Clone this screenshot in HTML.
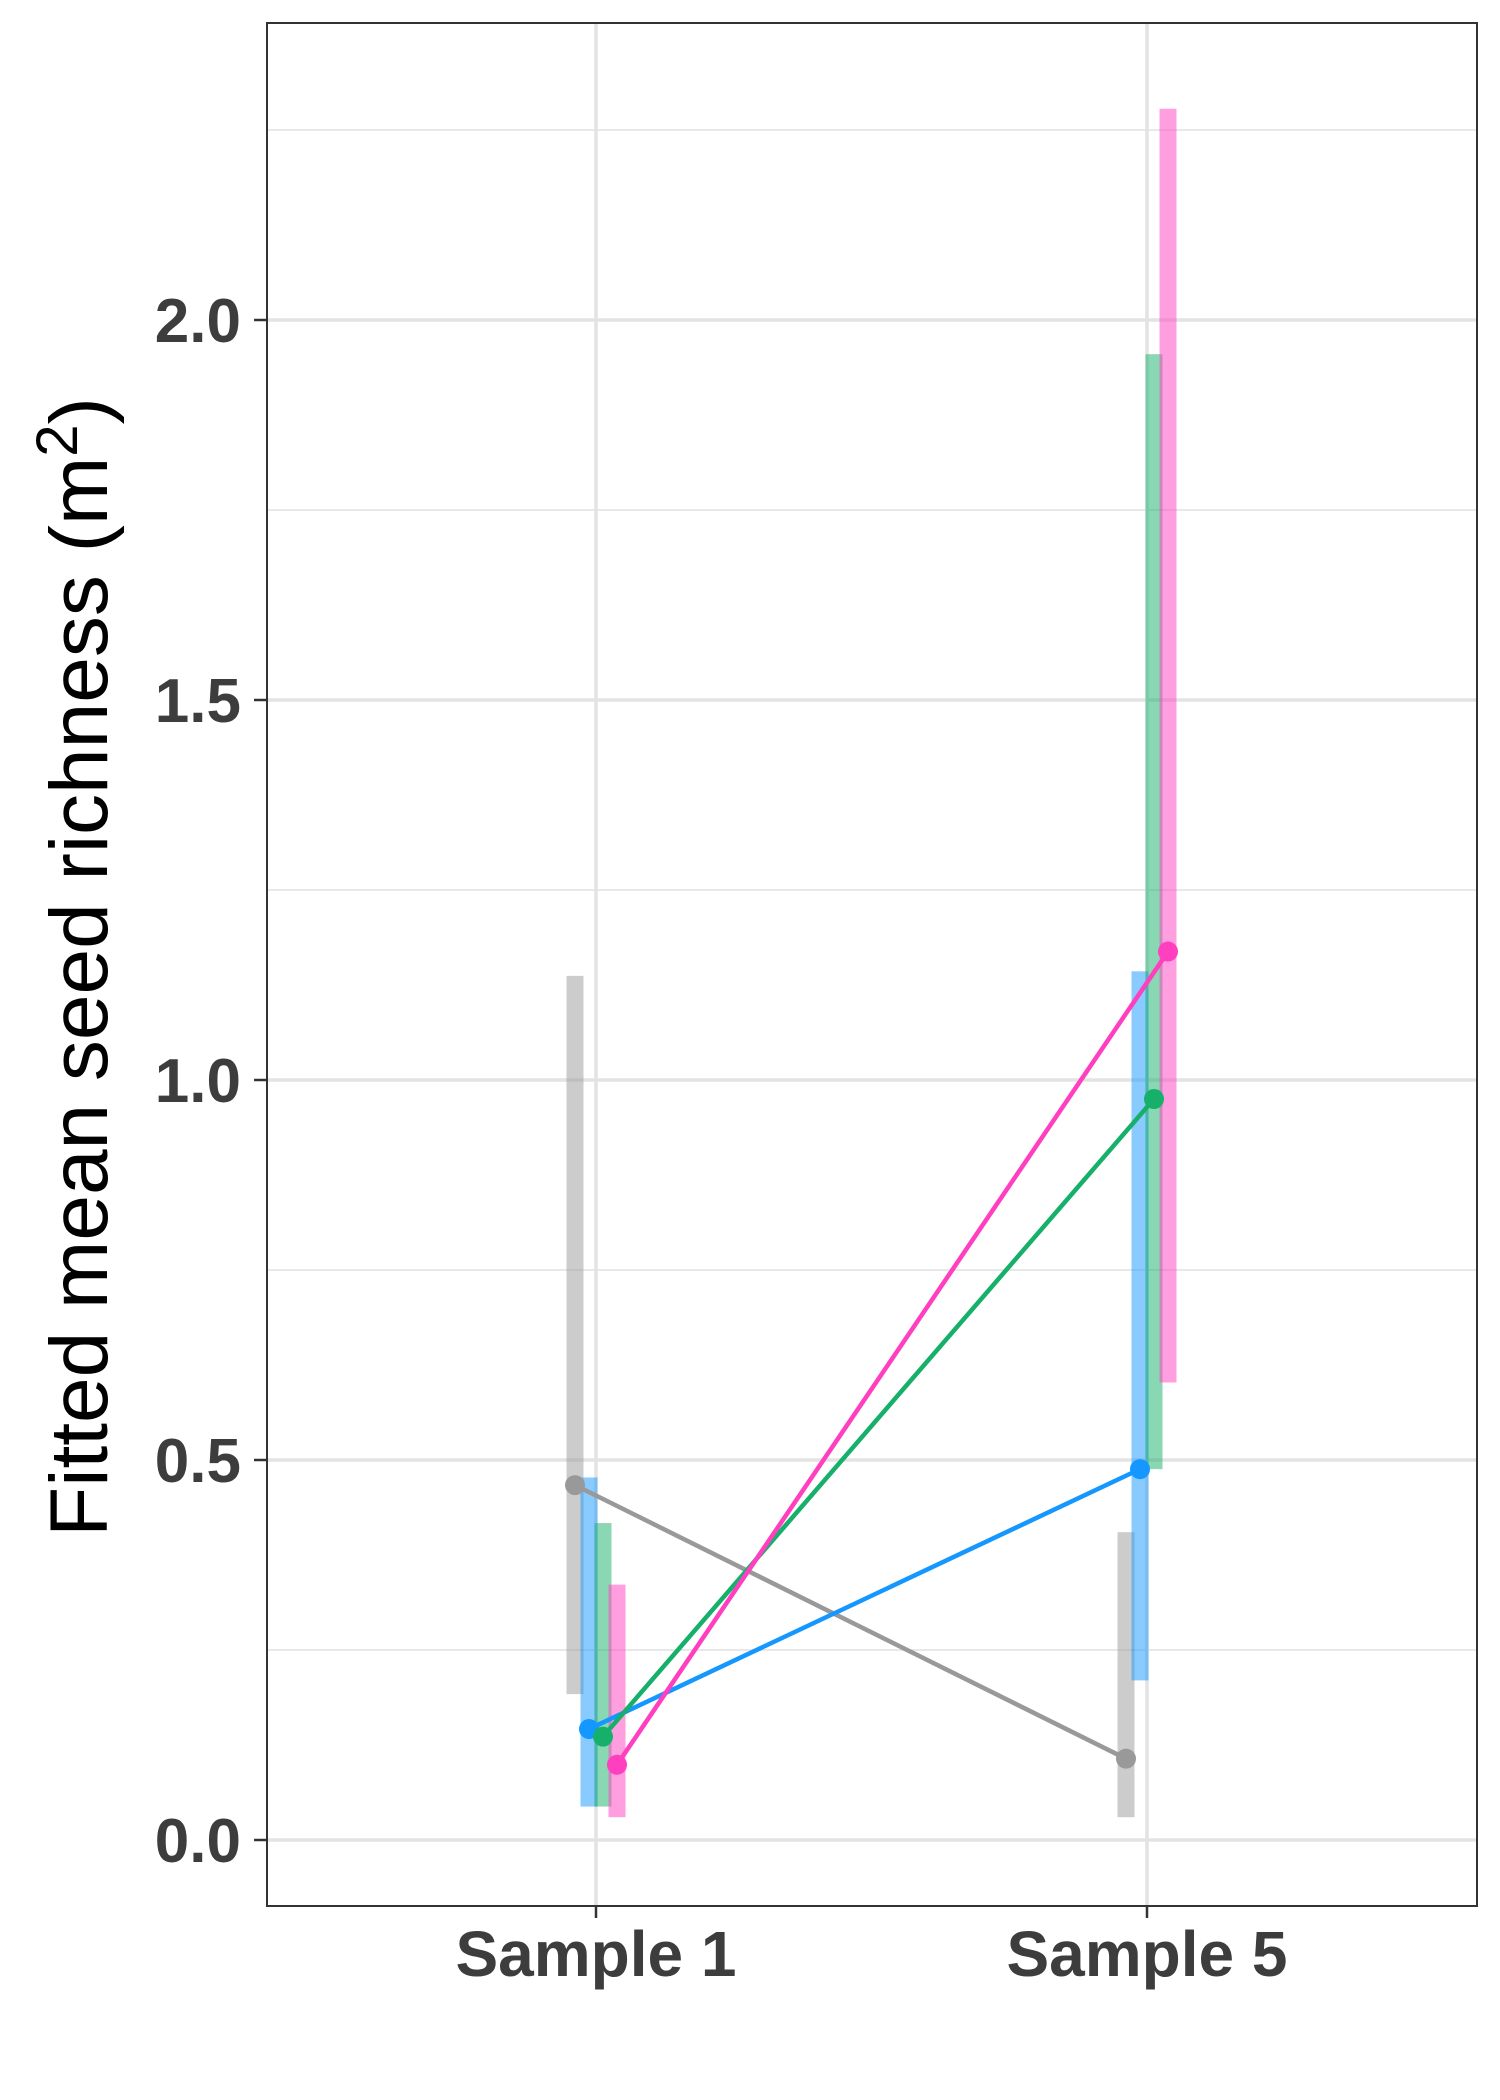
<!DOCTYPE html>
<html><head><meta charset="utf-8"><style>
html,body{margin:0;padding:0;background:#fff}
svg{display:block}
</style></head><body>
<svg id="chart" width="1500" height="2100" viewBox="0 0 1500 2100" xmlns="http://www.w3.org/2000/svg">
<rect x="0" y="0" width="1500" height="2100" fill="#fff"/>
<g id="grid"></g>
<g id="marks"></g>
<rect x="267" y="23" width="1210" height="1883" fill="none" stroke="#333" stroke-width="2"/>
<g id="axes"></g>
<text transform="translate(107,967) rotate(-90)" text-anchor="middle" font-family="Liberation Sans, sans-serif" font-size="82" fill="#000">Fitted mean seed richness (m<tspan dy="-30" font-size="58">2</tspan><tspan dy="30">)</tspan></text>
</svg>
<script>
const categories = ["Sample 1", "Sample 5"];
const groupColors = ["#999999", "#1497ff", "#16b06a", "#ff3fc0"];
const grayMean = [0.467, 0.107];
const grayLow = [0.192, 0.030];
const grayHigh = [1.137, 0.405];
const blueMean = [0.146, 0.488];
const blueLow = [0.044, 0.210];
const blueHigh = [0.477, 1.143];
const greenMean = [0.136, 0.975];
const greenLow = [0.044, 0.488];
const greenHigh = [0.417, 1.955];
const pinkMean = [0.099, 1.169];
const pinkLow = [0.030, 0.602];
const pinkHigh = [0.336, 2.278];
const yTicks = [0, 0.5, 1.0, 1.5, 2.0];
const yTickLabels = ["0.0", "0.5", "1.0", "1.5", "2.0"];
const yMinor = [0.25, 0.75, 1.25, 1.75, 2.25];

const NS = "http://www.w3.org/2000/svg";
const y = v => 1840 - v * 760;
const xc = i => 596 + i * 551;
const dodge = g => (g - 1.5) * 14;
const left = 267, right = 1477;

function mk(parent, tag, attrs) {
  const el = document.createElementNS(NS, tag);
  for (const k in attrs) el.setAttribute(k, attrs[k]);
  parent.appendChild(el);
  return el;
}
const grid = document.getElementById('grid');
const marks = document.getElementById('marks');
const axes = document.getElementById('axes');

yMinor.forEach(v => {
  const l = mk(grid, 'line', {x1: left, x2: right, y1: y(v), y2: y(v), stroke: '#e8e8e8', 'stroke-width': 2});
  
  
});
yTicks.forEach((v, i) => {
  const l = mk(grid, 'line', {x1: left, x2: right, y1: y(v), y2: y(v), stroke: '#e3e3e3', 'stroke-width': 3.5});
  
  
  const t = mk(axes, 'line', {x1: 254, x2: 267, y1: y(v), y2: y(v), stroke: '#333', 'stroke-width': 2.5});
  
  
  const tx = mk(axes, 'text', {x: 241, y: y(v) + 22, 'text-anchor': 'end', 'font-family': 'Liberation Sans, sans-serif', 'font-weight': 'bold', 'font-size': 62, fill: '#3d3d3d'});
  tx.textContent = yTickLabels[i];
  
  
});
categories.forEach((c, i) => {
  const l = mk(grid, 'line', {x1: xc(i), x2: xc(i), y1: 23, y2: 1906, stroke: '#e3e3e3', 'stroke-width': 3.5});
  
  
  const t = mk(axes, 'line', {x1: xc(i), x2: xc(i), y1: 1906, y2: 1918, stroke: '#333', 'stroke-width': 2.5});
  
  
  const tx = mk(axes, 'text', {x: xc(i), y: 1976, 'text-anchor': 'middle', 'font-family': 'Liberation Sans, sans-serif', 'font-weight': 'bold', 'font-size': 64, fill: '#3d3d3d'});
  tx.textContent = c;
  
  
});

const series = [
  [grayMean, grayLow, grayHigh, 'gray'],
  [blueMean, blueLow, blueHigh, 'blue'],
  [greenMean, greenLow, greenHigh, 'green'],
  [pinkMean, pinkLow, pinkHigh, 'pink']
];
series.forEach((s, g) => {
  const [mean, low, high, nm] = s;
  categories.forEach((c, i) => {
    const cx = xc(i) + dodge(g);
    const r = mk(marks, 'rect', {x: cx - 8.5, y: y(high[i]), width: 17, height: y(low[i]) - y(high[i]), fill: groupColors[g], 'fill-opacity': 0.5});
    
    
  });
});
series.forEach((s, g) => {
  const [mean, , , nm] = s;
  const pts = categories.map((c, i) => (xc(i) + dodge(g)) + ',' + y(mean[i])).join(' ');
  const pl = mk(marks, 'polyline', {points: pts, fill: 'none', stroke: groupColors[g], 'stroke-width': 4.5});
  
  
  categories.forEach((c, i) => {
    const p = mk(marks, 'circle', {cx: xc(i) + dodge(g), cy: y(mean[i]), r: 10, fill: groupColors[g]});
    
    
  });
});
</script>
</body></html>
